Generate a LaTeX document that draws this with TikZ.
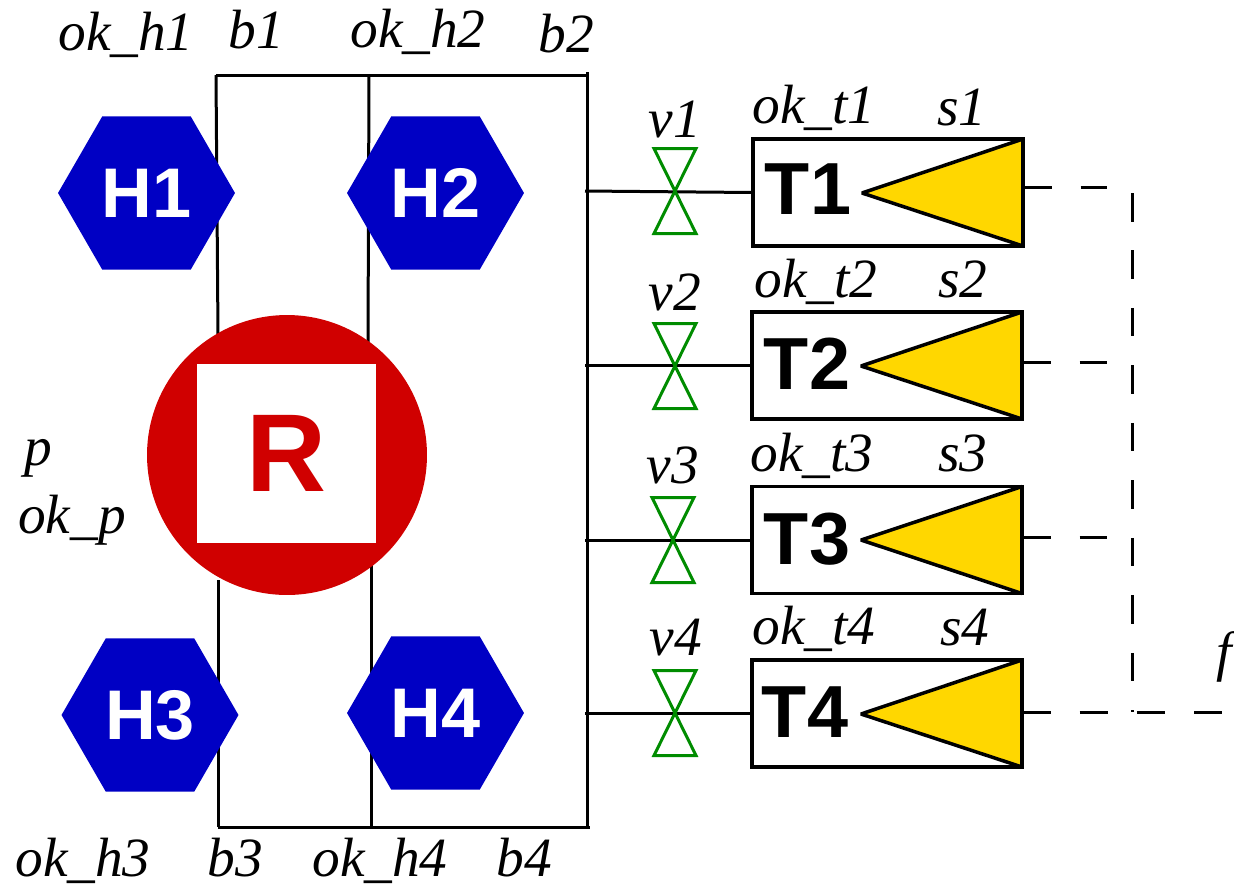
\documentclass[tikz,border=0pt]{standalone}
\usepackage{fontspec}
\usepackage{xcolor}
\setmainfont{Liberation Serif}
\setsansfont{Liberation Sans}
\usetikzlibrary{shapes.geometric,calc}
\definecolor{hexblue}{HTML}{0000C4}
\definecolor{rred}{HTML}{D00000}
\definecolor{sgold}{HTML}{FFD700}
\definecolor{vgreen}{HTML}{008C00}

\begin{document}
\begin{tikzpicture}[
    x=0.02cm, y=-0.02cm,
    bus/.style={line width=0.06cm},
    signal/.style={line width=0.06cm, dash pattern=on 0.57cm off 0.58cm},
    hexnode/.style={regular polygon, regular polygon sides=6, fill=hexblue, text=white, inner sep=0pt, minimum size=3.54cm, font=\sffamily\bfseries\fontsize{40}{40}\selectfont},
    tank/.style={draw, fill=white, line width=0.07cm, minimum width=5.4cm, minimum height=2.14cm, inner sep=0pt, outer sep=0pt},
    tanklabel/.style={font=\sffamily\bfseries\fontsize{42}{42}\selectfont, inner sep=0pt},
    sensor/.style={draw, fill=sgold, line width=0.07cm, line join=bevel},
    valve/.style={minimum width=0.84cm, minimum height=1.7cm, inner sep=0pt, outer sep=0pt},
    valveline/.style={draw=vgreen, line width=0.06cm},
    lbl/.style={font=\itshape\fontsize{31.5}{31.5}\selectfont, anchor=base, inner sep=0pt},
]
\useasboundingbox (0,0) rectangle (1234,887);

% buses
\coordinate (bh1) at (216,75);
\coordinate (bh2) at (369,75);
\coordinate (btop) at (587,75);
\coordinate (btopr) at (587,72);
\coordinate (bh3) at (218,827);
\coordinate (bh4) at (371,827);
\coordinate (bbot) at (590,827);
\coordinate (bbotr) at (587,829);
\coordinate (rh1) at (218,335);
\coordinate (rh2) at (368,342);
\coordinate (rh3) at (218,580);
\coordinate (rh4) at (371,565);
\draw[bus] (bh1) -- (btop);
\draw[bus] (bh3) -- (bbot);
\draw[bus] (btopr) -- (bbotr);
\draw[bus] (bh1) -- (rh1);
\draw[bus] (bh2) -- (rh2);
\draw[bus] (bh3) -- (rh3);
\draw[bus] (bh4) -- (rh4);

% heaters
\node[hexnode] (h1) at (146.5,193) {H1};
\node[hexnode] (h2) at (435.5,193) {H2};
\node[hexnode] (h3) at (150,715) {H3};
\node[hexnode] (h4) at (435.5,713) {H4};

% reactor
\node[circle, fill=rred, minimum size=5.6cm, inner sep=0pt] (reactor) at (287,455) {};
\node[fill=white, minimum size=3.58cm, inner sep=0pt, text=rred, font=\sffamily\bfseries\fontsize{63}{63}\selectfont] (rbox) at (286.5,453.5) {R};

% tanks
\node[tank] (tank1) at (888,192.5) {};
\node[tank] (tank2) at (887,365.5) {};
\node[tank] (tank3) at (887,540) {};
\node[tank] (tank4) at (887,713.5) {};
\node[tanklabel] (t1) at (808,189) {T1};
\node[tanklabel] (t2) at (807,364) {T2};
\node[tanklabel] (t3) at (807,539) {T3};
\node[tanklabel] (t4) at (805,712) {T4};
\draw[sensor] (tank1.north east) -- (862,193) -- (tank1.south east) -- cycle;
\draw[sensor] (tank2.north east) -- (861,366) -- (tank2.south east) -- cycle;
\draw[sensor] (tank3.north east) -- (861,540) -- (tank3.south east) -- cycle;
\draw[sensor] (tank4.north east) -- (861,714) -- (tank4.south east) -- cycle;

% pipes and valves
\node[valve] (v1) at (675,191) {};
\node[valve] (v2) at (675,366) {};
\node[valve] (v3) at (673,540) {};
\node[valve] (v4) at (675,713) {};
\coordinate (p1) at (585,191);
\coordinate (p2) at (585,365.5);
\coordinate (p3) at (585,540);
\coordinate (p4) at (585,713.5);
\draw[bus] (p1) -- (tank1.west);
\draw[bus] (p2) -- (tank2.west);
\draw[bus] (p3) -- (tank3.west);
\draw[bus] (p4) -- (tank4.west);
\draw[valveline] (v1.north west) -- (v1.south east) -- (v1.south west) -- (v1.north east) -- cycle;
\draw[valveline] (v2.north west) -- (v2.south east) -- (v2.south west) -- (v2.north east) -- cycle;
\draw[valveline] (v3.north west) -- (v3.south east) -- (v3.south west) -- (v3.north east) -- cycle;
\draw[valveline] (v4.north west) -- (v4.south east) -- (v4.south west) -- (v4.north east) -- cycle;

% signals
\coordinate (s1a) at (1023,187);
\coordinate (s1b) at (1107,187);
\coordinate (s2a) at (1022,362);
\coordinate (s2b) at (1107,362);
\coordinate (s3a) at (1022,537);
\coordinate (s3b) at (1107,537);
\coordinate (s4a) at (1022,712);
\coordinate (s4b) at (1222,712);
\coordinate (ftop) at (1132,193);
\coordinate (fbot) at (1132,712);
\draw[signal] (s1a) -- (s1b);
\draw[signal] (s2a) -- (s2b);
\draw[signal] (s3a) -- (s3b);
\draw[signal] (s4a) -- (s4b);
\draw[signal] (ftop) -- (fbot);

% labels
\node[lbl] (lokh1) at (126,50) {ok\_h1};
\node[lbl] (lb1) at (256,48) {b1};
\node[lbl] (lokh2) at (418,47) {ok\_h2};
\node[lbl] (lb2) at (566,52) {b2};
\node[lbl] (lv1) at (675,137) {v1};
\node[lbl] (loktone) at (814,123) {ok\_t1};
\node[lbl] (ls1) at (962,125) {s1};
\node[lbl] (lv2) at (675,310) {v2};
\node[lbl] (lokttwo) at (816,297) {ok\_t2};
\node[lbl] (ls2) at (963,297) {s2};
\node[lbl] (lv3) at (673,483) {v3};
\node[lbl] (loktthree) at (812,471) {ok\_t3};
\node[lbl] (ls3) at (963,471) {s3};
\node[lbl] (lv4) at (676,655) {v4};
\node[lbl] (loktfour) at (814,644) {ok\_t4};
\node[lbl] (ls4) at (965,645) {s4};
\node[lbl] (lp) at (38,465) {p};
\node[lbl] (lokp) at (72,533) {ok\_p};
\node[lbl] (lokh3) at (83,876) {ok\_h3};
\node[lbl] (lb3) at (235,876) {b3};
\node[lbl] (lokh4) at (380,876) {ok\_h4};
\node[lbl] (lb4) at (524,876) {b4};
\node[lbl] (lf) at (1224,670) {f};
\end{tikzpicture}
\end{document}
